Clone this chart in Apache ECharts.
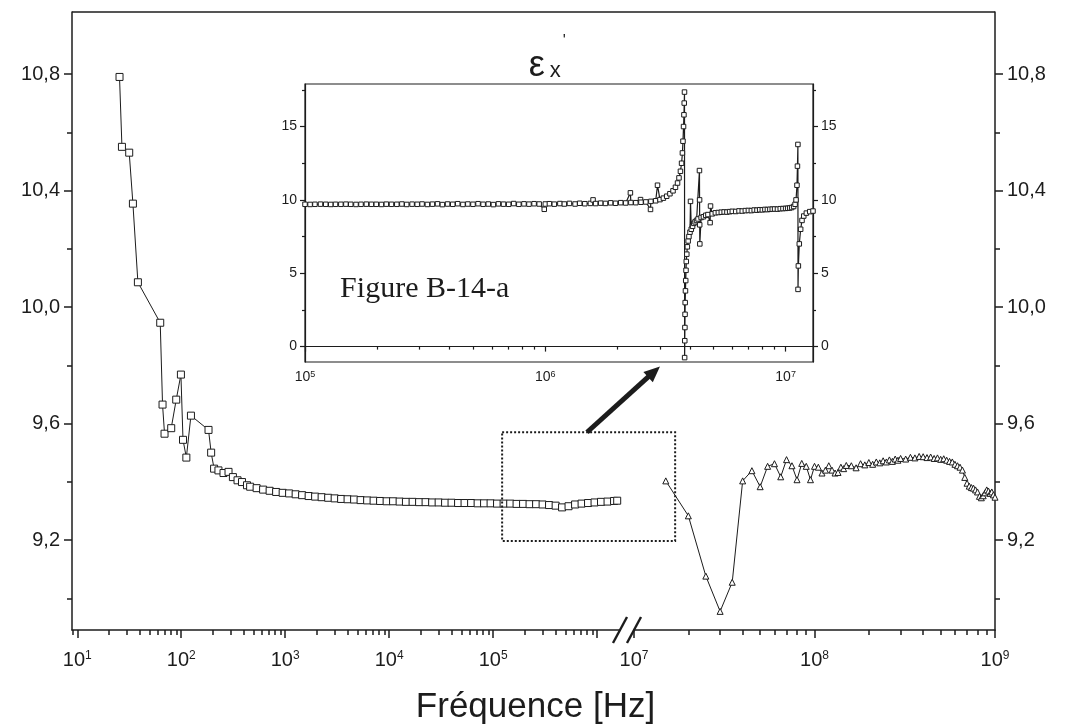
<!DOCTYPE html>
<html>
<head>
<meta charset="utf-8">
<script src="https://cdn.jsdelivr.net/npm/echarts@6/dist/echarts.min.js"></script>
<style>html,body{margin:0;padding:0;background:#fff}#c{width:1071px;height:726px}</style>
</head>
<body>
<div id="c"></div>
<script>
// ---------- data (frequency in Hz / MHz for the inset, permittivity) ----------
const lowBand = [
  [25.5,10.79],[26.9,10.55],[31.6,10.53],[34.3,10.355],[38.3,10.085],[62.8,9.946],[66.1,9.665],
  [69.1,9.565],[80.1,9.584],[89.5,9.682],[99.3,9.768],[104,9.544],[112,9.483],[124,9.627],
  [183,9.578],[194,9.50],[207,9.445],[228,9.439],[255,9.43],[285,9.434],[314,9.416],[348,9.405],
  [384,9.399],[429,9.388],[460,9.383],[531,9.378],[613,9.373],[708,9.369],[818,9.365],[945,9.362],
  [1090,9.360],[1260,9.357],[1455,9.354],[1680,9.351],[1940,9.349],[2240,9.347],[2590,9.345],
  [2990,9.343],[3450,9.341],[3980,9.340],[4600,9.339],[5310,9.337],[6140,9.336],[7080,9.335],
  [8180,9.334],[9450,9.333],[10900,9.333],[12600,9.332],[14500,9.331],[16800,9.331],[19400,9.330],
  [22400,9.330],[25900,9.329],[29900,9.329],[34500,9.328],[39800,9.328],[46000,9.327],[53100,9.327],
  [61400,9.327],[70900,9.326],[81800,9.326],[94500,9.326],[109000,9.325],[126000,9.325],
  [146000,9.325],[168000,9.324],[194000,9.324],[224000,9.323],[259000,9.323],[299000,9.322],
  [345000,9.320],[399000,9.318],[460000,9.312],[531000,9.316],[614000,9.322],[709000,9.325],
  [818000,9.327],[945000,9.329],[1090000,9.331],[1260000,9.332],[1455000,9.334],[1560000,9.335]
];
const highBand = [
  [1.5e7,9.403],[2.0e7,9.283],[2.5e7,9.076],[3.0e7,8.955],[3.5e7,9.055],[4.0e7,9.403],[4.5e7,9.438],
  [5.0e7,9.383],[5.5e7,9.453],[6.0e7,9.462],[6.5e7,9.417],[7.0e7,9.476],[7.5e7,9.455],[8.0e7,9.407],
  [8.5e7,9.463],[9.0e7,9.453],[9.5e7,9.407],[1.0e8,9.453],[1.05e8,9.45],[1.1e8,9.43],[1.15e8,9.44],
  [1.2e8,9.455],[1.25e8,9.44],[1.3e8,9.43],[1.35e8,9.432],[1.4e8,9.45],[1.45e8,9.445],[1.5e8,9.456],
  [1.6e8,9.455],[1.7e8,9.448],[1.8e8,9.462],[1.9e8,9.458],[2.0e8,9.466],[2.1e8,9.46],[2.2e8,9.468],
  [2.3e8,9.465],[2.4e8,9.472],[2.5e8,9.468],[2.6e8,9.475],[2.7e8,9.47],[2.8e8,9.478],[2.9e8,9.474],
  [3.0e8,9.48],[3.2e8,9.478],[3.4e8,9.484],[3.6e8,9.482],[3.8e8,9.487],[4.0e8,9.486],[4.2e8,9.483],
  [4.4e8,9.485],[4.6e8,9.48],[4.8e8,9.482],[5.0e8,9.477],[5.2e8,9.479],[5.4e8,9.474],[5.6e8,9.47],
  [5.8e8,9.468],[6.0e8,9.46],[6.2e8,9.455],[6.4e8,9.45],[6.6e8,9.44],[6.8e8,9.415],[7.0e8,9.395],
  [7.2e8,9.385],[7.4e8,9.38],[7.6e8,9.378],[7.8e8,9.372],[8.0e8,9.365],[8.2e8,9.35],[8.4e8,9.345],
  [8.6e8,9.352],[8.8e8,9.362],[9.0e8,9.372],[9.2e8,9.368],[9.4e8,9.36],[9.6e8,9.365],[9.8e8,9.355],
  [1.0e9,9.347]
];
const insetTrace = [
  [0.100,9.70],[0.105,9.69],[0.110,9.70],[0.116,9.71],[0.122,9.70],[0.128,9.69],[0.134,9.70],
  [0.141,9.70],[0.148,9.71],[0.155,9.70],[0.163,9.69],[0.171,9.70],[0.180,9.71],[0.189,9.70],
  [0.198,9.70],[0.208,9.69],[0.218,9.71],[0.229,9.70],[0.241,9.70],[0.253,9.72],[0.265,9.69],
  [0.279,9.71],[0.293,9.70],[0.307,9.72],[0.323,9.69],[0.339,9.71],[0.356,9.73],[0.373,9.68],
  [0.392,9.72],[0.412,9.70],[0.432,9.74],[0.454,9.69],[0.476,9.72],[0.500,9.70],[0.525,9.74],
  [0.551,9.70],[0.579,9.72],[0.608,9.68],[0.638,9.73],[0.670,9.71],[0.704,9.70],[0.739,9.75],
  [0.776,9.70],[0.815,9.73],[0.855,9.71],[0.898,9.74],[0.943,9.72],[0.990,9.36],[1.000,9.72],
  [1.04,9.74],[1.09,9.71],[1.15,9.75],[1.20,9.72],[1.26,9.76],[1.33,9.72],[1.39,9.77],[1.46,9.74],
  [1.54,9.76],[1.58,10.00],[1.62,9.75],[1.70,9.78],[1.78,9.76],[1.87,9.80],[1.96,9.77],[2.06,9.81],
  [2.16,9.79],[2.26,10.48],[2.27,9.82],[2.38,9.81],[2.49,10.02],[2.50,9.84],[2.62,9.86],[2.74,9.35],
  [2.75,9.90],[2.88,9.94],[2.93,11.00],[3.00,10.02],[3.10,10.12],[3.20,10.25],[3.30,10.42],
  [3.40,10.62],[3.48,10.86],[3.55,11.15],[3.60,11.5],[3.65,11.95],[3.69,12.5],[3.72,13.2],
  [3.74,14.0],[3.76,15.0],[3.775,15.8],[3.785,16.6],[3.795,17.35],[3.800,-0.75],[3.805,0.4],
  [3.81,1.3],[3.815,2.2],[3.82,3.0],[3.83,3.8],[3.84,4.5],[3.85,5.2],[3.86,5.8],[3.88,6.3],
  [3.90,6.8],[3.93,7.2],[3.96,7.5],[4.00,7.8],[4.02,9.9],[4.05,8.0],[4.10,8.2],[4.15,8.4],
  [4.20,8.5],[4.26,8.6],[4.32,8.7],[4.38,12.0],[4.385,10.0],[4.39,8.3],[4.395,7.0],[4.45,8.8],
  [4.55,8.85],[4.65,8.95],[4.75,9.0],[4.85,8.45],[4.87,9.58],[4.95,9.05],[5.1,9.12],[5.25,9.14],
  [5.4,9.16],[5.55,9.18],[5.7,9.17],[5.85,9.20],[6.0,9.22],[6.2,9.21],[6.4,9.25],[6.6,9.24],
  [6.8,9.27],[7.0,9.28],[7.2,9.27],[7.4,9.31],[7.6,9.30],[7.8,9.33],[8.0,9.32],[8.2,9.35],
  [8.4,9.34],[8.6,9.36],[8.8,9.37],[9.0,9.38],[9.25,9.37],[9.5,9.40],[9.75,9.41],[10.0,9.42],
  [10.2,9.43],[10.4,9.45],[10.6,9.48],[10.8,9.55],[10.95,9.7],[11.05,10.0],[11.15,11.0],
  [11.2,12.3],[11.25,13.78],[11.26,3.9],[11.3,5.5],[11.4,7.0],[11.55,8.0],[11.7,8.6],[11.9,8.9],
  [12.2,9.1],[12.6,9.2],[13.0,9.24]
];

// ---------- axis ticks / labels ----------
const mainYMajor = [9.2, 9.6, 10.0, 10.4, 10.8];
const mainYMinor = [9.0, 9.4, 9.8, 10.2, 10.6];
const lowXMajor = [10, 100, 1e3, 1e4, 1e5, 1e6];
const lowXLabels = [10, 100, 1e3, 1e4, 1e5];
const lowXMinor = [9, 20, 30, 40, 50, 60, 70, 80, 90, 200, 300, 400, 500, 600, 700, 800, 900,
  2e3, 3e3, 4e3, 5e3, 6e3, 7e3, 8e3, 9e3, 2e4, 3e4, 4e4, 5e4, 6e4, 7e4, 8e4, 9e4,
  2e5, 3e5, 4e5, 5e5, 6e5, 7e5, 8e5, 9e5];
const highXMajor = [1e7, 1e8, 1e9];
const highXMinor = [2e7, 3e7, 4e7, 5e7, 6e7, 7e7, 8e7, 9e7, 2e8, 3e8, 4e8, 5e8, 6e8, 7e8, 8e8, 9e8];
const insetYMajor = [0, 5, 10, 15];
const insetYMinor = [2.5, 7.5, 12.5, 17.5];
const insetXMajor = [0.1, 1, 10];          // MHz
const insetXMinor = [0.2, 0.3, 0.4, 0.5, 0.6, 0.7, 0.8, 0.9, 2, 3, 4, 5, 6, 7, 8, 9];

// ---------- ranges ----------
const Y_MIN = 8.891, Y_MAX = 11.013;
const LOW_MIN = 8.9, LOW_MAX = 1.66e6;
const HIGH_MIN = 1e7, HIGH_MAX = 1e9;
const IN_XMIN = 0.1, IN_XMAX = 13, IN_YMIN = -1.05, IN_YMAX = 17.9;

const INK = '#1c1c1c';
const FONT = 'Liberation Sans';

function powLabel(offset, big, small, margin, values) {
  return {
    customValues: values, margin: margin,
    formatter: v => '{b|10}{s|' + (Math.round(Math.log10(v)) + offset) + '}',
    rich: {
      b: {fontSize: big, fontFamily: FONT, color: INK},
      s: {fontSize: small, fontFamily: FONT, color: INK, verticalAlign: 'top'}
    }
  };
}
const line = w => ({show: true, lineStyle: {color: INK, width: w}});
function xAxisMajor(grid, min, max, ticks, label, len, w) {
  return {type: 'log', gridIndex: grid, position: 'bottom', min: min, max: max,
    axisLine: line(w), splitLine: {show: false},
    axisTick: {show: true, customValues: ticks, length: len, lineStyle: {color: INK, width: w}},
    axisLabel: label};
}
function xAxisMinor(grid, min, max, ticks, len, w) {
  return {type: 'log', gridIndex: grid, position: 'bottom', min: min, max: max,
    axisLine: {show: false}, splitLine: {show: false}, axisLabel: {show: false},
    axisTick: {show: true, customValues: ticks, length: len, lineStyle: {color: INK, width: w}}};
}
function yAxisMajor(grid, pos, min, max, ticks, fs, margin, len, w, fmt) {
  return {type: 'value', gridIndex: grid, position: pos, min: min, max: max,
    axisLine: line(w), splitLine: {show: false},
    axisTick: {show: true, customValues: ticks, length: len, lineStyle: {color: INK, width: w}},
    axisLabel: {customValues: ticks, fontSize: fs, fontFamily: FONT, color: INK, margin: margin, formatter: fmt}};
}
function yAxisMinor(grid, pos, min, max, ticks, len, w) {
  return {type: 'value', gridIndex: grid, position: pos, min: min, max: max,
    axisLine: {show: false}, splitLine: {show: false}, axisLabel: {show: false},
    axisTick: {show: true, customValues: ticks, length: len, lineStyle: {color: INK, width: w}}};
}
const commaFmt = v => v.toFixed(1).replace('.', ',');
const intFmt = v => String(v);

const option = {
  animation: false,
  backgroundColor: '#ffffff',
  title: [{
    text: 'Fréquence [Hz]', left: 'center', top: 685,
    textStyle: {fontFamily: FONT, fontSize: 35, fontWeight: 'normal', color: INK}
  }],
  grid: [
    {left: 72, top: 12, width: 548, height: 618},
    {left: 634, top: 12, width: 361, height: 618},
    {left: 305, top: 84, width: 508, height: 278, show: true, borderColor: INK, borderWidth: 1.2, backgroundColor: 'transparent'}
  ],
  xAxis: [
    xAxisMajor(0, LOW_MIN, LOW_MAX, lowXMajor, powLabel(0, 20, 12, 20, lowXLabels), 8, 1.5),
    xAxisMajor(1, HIGH_MIN, HIGH_MAX, highXMajor, powLabel(0, 20, 12, 20, highXMajor), 8, 1.5),
    xAxisMajor(2, IN_XMIN, IN_XMAX, insetXMajor, powLabel(6, 14, 9, 8, insetXMajor), 5, 1.2),
    xAxisMinor(0, LOW_MIN, LOW_MAX, lowXMinor, 5, 1.5),
    xAxisMinor(1, HIGH_MIN, HIGH_MAX, highXMinor, 5, 1.5),
    xAxisMinor(2, IN_XMIN, IN_XMAX, insetXMinor, 3, 1.2)
  ],
  yAxis: [
    yAxisMajor(0, 'left', Y_MIN, Y_MAX, mainYMajor, 20, 12, 8, 1.5, commaFmt),
    yAxisMajor(1, 'right', Y_MIN, Y_MAX, mainYMajor, 20, 12, 8, 1.5, commaFmt),
    yAxisMajor(2, 'left', IN_YMIN, IN_YMAX, insetYMajor, 14, 8, 5, 1.2, intFmt),
    yAxisMajor(2, 'right', IN_YMIN, IN_YMAX, insetYMajor, 14, 8, 5, 1.2, intFmt),
    yAxisMinor(0, 'left', Y_MIN, Y_MAX, mainYMinor, 5, 1.5),
    yAxisMinor(1, 'right', Y_MIN, Y_MAX, mainYMinor, 5, 1.5),
    yAxisMinor(2, 'left', IN_YMIN, IN_YMAX, insetYMinor, 3, 1.2),
    yAxisMinor(2, 'right', IN_YMIN, IN_YMAX, insetYMinor, 3, 1.2)
  ],
  series: [
    {type: 'line', xAxisIndex: 0, yAxisIndex: 0, data: lowBand, symbol: 'rect', symbolSize: 7,
      itemStyle: {color: '#fff', borderColor: INK, borderWidth: 1}, lineStyle: {color: INK, width: 1}},
    {type: 'line', xAxisIndex: 1, yAxisIndex: 1, data: highBand, symbol: 'triangle', symbolSize: 6,
      itemStyle: {color: '#fff', borderColor: INK, borderWidth: 1}, lineStyle: {color: INK, width: 1}},
    {type: 'line', xAxisIndex: 2, yAxisIndex: 2, data: insetTrace, symbol: 'rect', symbolSize: 4.5,
      itemStyle: {color: '#fff', borderColor: INK, borderWidth: 1}, lineStyle: {color: INK, width: 1.2}}
  ]
};

const chart = echarts.init(document.getElementById('c'), null, {renderer: 'canvas'});
chart.setOption(option);

// ---------- annotations placed through the chart's own scales ----------
const P = (si, v) => chart.convertToPixel({seriesIndex: si}, v);
const topL = P(0, [LOW_MIN, Y_MAX]);
const topR = P(1, [HIGH_MAX, Y_MAX]);
const brkA = P(0, [LOW_MAX, Y_MIN]);
const brkB = P(1, [HIGH_MIN, Y_MIN]);
const boxTL = P(0, [1.22e5, 9.57]);
const boxBR = P(1, [1.69e7, 9.197]);
const arrTail = P(0, [8.0e5, 9.57]);
const arrTip = P(2, [3.0, -1.35]);
const figPos = P(2, [0.14, 3.9]);
const epsPos = P(2, [0.93, IN_YMAX]);

const dx = arrTip[0] - arrTail[0], dy = arrTip[1] - arrTail[1];
const len = Math.hypot(dx, dy), ux = dx / len, uy = dy / len;
const HL = 16, HW = 7;
const head = [
  [arrTip[0], arrTip[1]],
  [arrTip[0] - ux * HL - uy * HW, arrTip[1] - uy * HL + ux * HW],
  [arrTip[0] - ux * HL + uy * HW, arrTip[1] - uy * HL - ux * HW]
];
const slash = (p) => ({type: 'line', shape: {x1: p[0] - 7, y1: p[1] + 13, x2: p[0] + 7, y2: p[1] - 13},
  style: {stroke: INK, lineWidth: 2.4}, z: 100});

chart.setOption({
  graphic: [
    {type: 'line', shape: {x1: topL[0], y1: topL[1], x2: topR[0], y2: topR[1]}, style: {stroke: INK, lineWidth: 1.5}, z: 100},
    {type: 'rect', shape: {x: brkA[0] + 1, y: brkA[1] - 4, width: brkB[0] - brkA[0] - 2, height: 8}, style: {fill: '#fff'}, z: 99},
    slash(brkA), slash(brkB),
    {type: 'rect', shape: {x: boxTL[0], y: boxTL[1], width: boxBR[0] - boxTL[0], height: boxBR[1] - boxTL[1]},
      style: {fill: 'none', stroke: INK, lineWidth: 2, lineDash: [2, 2]}, z: 90},
    {type: 'line', shape: {x1: arrTail[0], y1: arrTail[1], x2: arrTip[0] - ux * HL * 0.8, y2: arrTip[1] - uy * HL * 0.8},
      style: {stroke: INK, lineWidth: 5}, z: 100},
    {type: 'polygon', shape: {points: head}, style: {fill: INK}, z: 100},
    {type: 'text', x: figPos[0], y: figPos[1], z: 100,
      style: {text: 'Figure B-14-a', fontFamily: 'Liberation Serif', fontSize: 30, fill: INK, align: 'left', verticalAlign: 'middle'}},
    {type: 'text', x: epsPos[0] - 9, y: epsPos[1] - 36, z: 100,
      style: {text: 'ε', fontFamily: FONT, fontSize: 36, fill: INK, align: 'left', verticalAlign: 'top'}},
    {type: 'text', x: epsPos[0] + 12, y: epsPos[1] - 24, z: 100,
      style: {text: 'x', fontFamily: FONT, fontSize: 22, fill: INK, align: 'left', verticalAlign: 'top'}},
    {type: 'text', x: epsPos[0] + 25, y: epsPos[1] - 50, z: 100,
      style: {text: "'", fontFamily: FONT, fontSize: 16, fill: INK, align: 'left', verticalAlign: 'top'}}
  ]
});
</script>
</body>
</html>
